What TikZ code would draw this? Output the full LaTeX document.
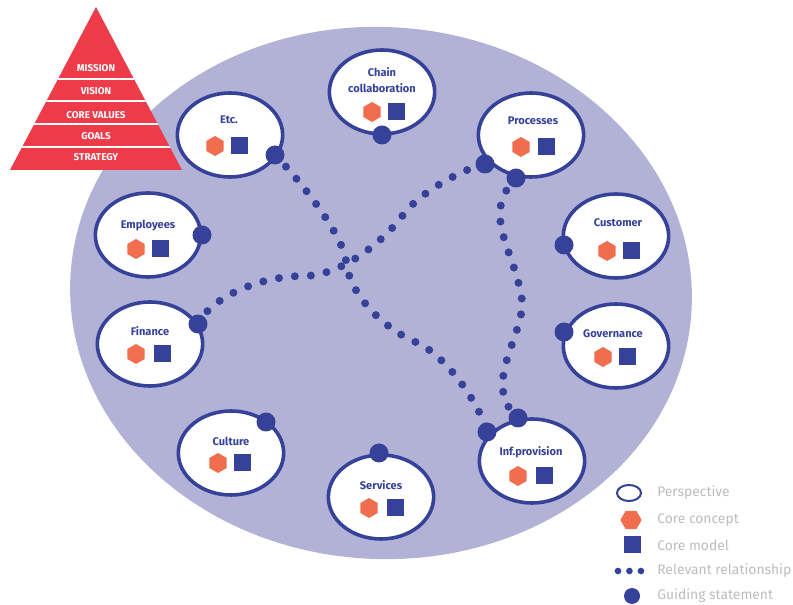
\documentclass[tikz,border=0pt]{standalone}
\usepackage{fontspec}
\setmainfont{Fira Sans}
\usepackage{tikz}
\usetikzlibrary{shapes.geometric,positioning}
\definecolor{pvnavy}{RGB}{54,66,153}
\definecolor{pvlilac}{RGB}{178,178,214}
\definecolor{pvorange}{RGB}{240,110,78}
\definecolor{pvred}{RGB}{238,59,74}
\definecolor{pvgrey}{RGB}{188,188,188}
\tikzstyle{perspective} = [ellipse, draw=pvnavy, fill=white, line width=2.7pt, minimum width=79pt, minimum height=63pt, inner sep=0pt]
\tikzstyle{plabel} = [font=\fontsize{8.3}{12}\selectfont\bfseries, text=pvnavy, align=center, inner sep=0pt]
\tikzstyle{concept} = [regular polygon, regular polygon sides=6, shape border rotate=30, fill=pvorange, minimum size=15pt, inner sep=0pt]
\tikzstyle{model} = [rectangle, fill=pvnavy, minimum size=12.75pt, inner sep=0pt]
\tikzstyle{guiding} = [circle, fill=pvnavy, minimum size=14.25pt, inner sep=0pt]
\tikzstyle{relation} = [pvnavy, line width=6pt, line cap=round, dash pattern=on 0pt off 12pt]
\tikzstyle{pyrlabel} = [font=\fontsize{7.4}{9}\selectfont\bfseries, text=white, inner sep=0pt]
\tikzstyle{legendlabel} = [font=\fontsize{10.4}{12}\selectfont, text=pvgrey, anchor=west, inner sep=0pt]

\begin{document}
\begin{tikzpicture}[x=0.75pt, y=-0.75pt]
\useasboundingbox (0,0) rectangle (793,605);

% Background shape
\fill[pvlilac, rotate around={-3:(381,293)}] (381,293) ellipse [x radius=311, y radius=266];

% Pyramid
\fill[pvred] (96,7) -- (182,170) -- (10,170) -- cycle;
\begin{scope}
\clip (96,7) -- (182,170) -- (10,170) -- cycle;
\draw[white, line width=2pt] (0,79) -- (200,79);
\draw[white, line width=2pt] (0,101) -- (200,101);
\draw[white, line width=2pt] (0,124) -- (200,124);
\draw[white, line width=2pt] (0,147) -- (200,147);
\end{scope}
\node[pyrlabel] (mission) at (96,68) {MISSION};
\node[pyrlabel] (vision) at (96,91) {VISION};
\node[pyrlabel] (values) at (96,115) {CORE VALUES};
\node[pyrlabel] (goals) at (96,136) {GOALS};
\node[pyrlabel] (strategy) at (96,157) {STRATEGY};

% Perspectives
\node[perspective] (etc) at (230,135) {};
\node[perspective] (chain) at (382,92) {};
\node[perspective] (proc) at (531,135) {};
\node[perspective] (cust) at (616,236) {};
\node[perspective] (gov) at (616,346) {};
\node[perspective] (inf) at (532,461) {};
\node[perspective] (serv) at (381,497) {};
\node[perspective] (cult) at (231,453) {};
\node[perspective] (fin) at (150,344) {};
\node[perspective] (emp) at (148,235) {};

% Labels
\node[plabel] (etc-l) at (229,120) {Etc.};
\node[plabel] (chain-l) at (382,80) {Chain\\collaboration};
\node[plabel] (proc-l) at (533,121) {Processes};
\node[plabel] (cust-l) at (618,223) {Customer};
\node[plabel] (gov-l) at (613,334) {Governance};
\node[plabel] (inf-l) at (531,452) {Inf.provision};
\node[plabel] (serv-l) at (381,485) {Services};
\node[plabel] (cult-l) at (231,441) {Culture};
\node[plabel] (fin-l) at (150,331) {Finance};
\node[plabel] (emp-l) at (148,226) {Employees};

% Core concepts and models
\node[concept] (etc-c) at (215,146) {};
\node[model] (etc-m) at (239,146) {};
\node[concept] (chain-c) at (372,112) {};
\node[model] (chain-m) at (396,112) {};
\node[concept] (proc-c) at (521,147) {};
\node[model] (proc-m) at (546,147) {};
\node[concept] (cust-c) at (607,251) {};
\node[model] (cust-m) at (631,251) {};
\node[concept] (gov-c) at (603,357) {};
\node[model] (gov-m) at (627,357) {};
\node[concept] (inf-c) at (518,476) {};
\node[model] (inf-m) at (544,476) {};
\node[concept] (serv-c) at (369,508) {};
\node[model] (serv-m) at (395,508) {};
\node[concept] (cult-c) at (218,463) {};
\node[model] (cult-m) at (242,463) {};
\node[concept] (fin-c) at (136,354) {};
\node[model] (fin-m) at (162,354) {};
\node[concept] (emp-c) at (136,249) {};
\node[model] (emp-m) at (160,249) {};

% Guiding statement positions
\coordinate (etc-g) at (275,155);
\coordinate (chain-g) at (382,135);
\coordinate (proc-g1) at (485,164);
\coordinate (proc-g2) at (516,178);
\coordinate (cust-g) at (564,245);
\coordinate (gov-g) at (564,332);
\coordinate (inf-g1) at (487,432);
\coordinate (inf-g2) at (518,418);
\coordinate (serv-g) at (379,453);
\coordinate (cult-g) at (266,422);
\coordinate (fin-g) at (198,324);
\coordinate (emp-g) at (202,235);

% Relevant relationships
\draw[relation] (etc-g) .. controls (300,180) and (343,235) .. (346,261) .. controls (349,295) and (385,330) .. (418,343) .. controls (448,358) and (480,405) .. (inf-g1);
\draw[relation] (fin-g) .. controls (212,296) and (262,276) .. (303,276) .. controls (345,276) and (388,236) .. (403,215) .. controls (418,194) and (460,170) .. (proc-g1);
\draw[relation] (proc-g2) .. controls (480,215) and (515,250) .. (522,300) .. controls (525,335) and (480,385) .. (inf-g2);

% Guiding statements
\node[guiding] at (etc-g) {};
\node[guiding] at (chain-g) {};
\node[guiding] at (proc-g1) {};
\node[guiding] at (proc-g2) {};
\node[guiding] at (cust-g) {};
\node[guiding] at (gov-g) {};
\node[guiding] at (inf-g1) {};
\node[guiding] at (inf-g2) {};
\node[guiding] at (serv-g) {};
\node[guiding] at (cult-g) {};
\node[guiding] at (fin-g) {};
\node[guiding] at (emp-g) {};

% Legend
\node[perspective, line width=1.5pt, minimum width=18pt, minimum height=12pt] (leg-p) at (629,493) {};
\node[concept, shape border rotate=0, minimum size=16pt] (leg-c) at (631,520) {};
\node[model] (leg-m) at (632,545) {};
\coordinate (leg-r1) at (618,571);
\coordinate (leg-r2) at (641,571);
\draw[relation, line width=5pt, dash pattern=on 0pt off 8.6pt] (leg-r1) -- (leg-r2);
\node[guiding, minimum size=12pt] (leg-g) at (632,596) {};
\node[legendlabel] (leg-pt) at (657,493) {Perspective};
\node[legendlabel] (leg-ct) at (657,520) {Core concept};
\node[legendlabel] (leg-mt) at (657,545) {Core model};
\node[legendlabel] (leg-rt) at (657,571) {Relevant relationship};
\node[legendlabel] (leg-gt) at (657,596) {Guiding statement};
\end{tikzpicture}
\end{document}
